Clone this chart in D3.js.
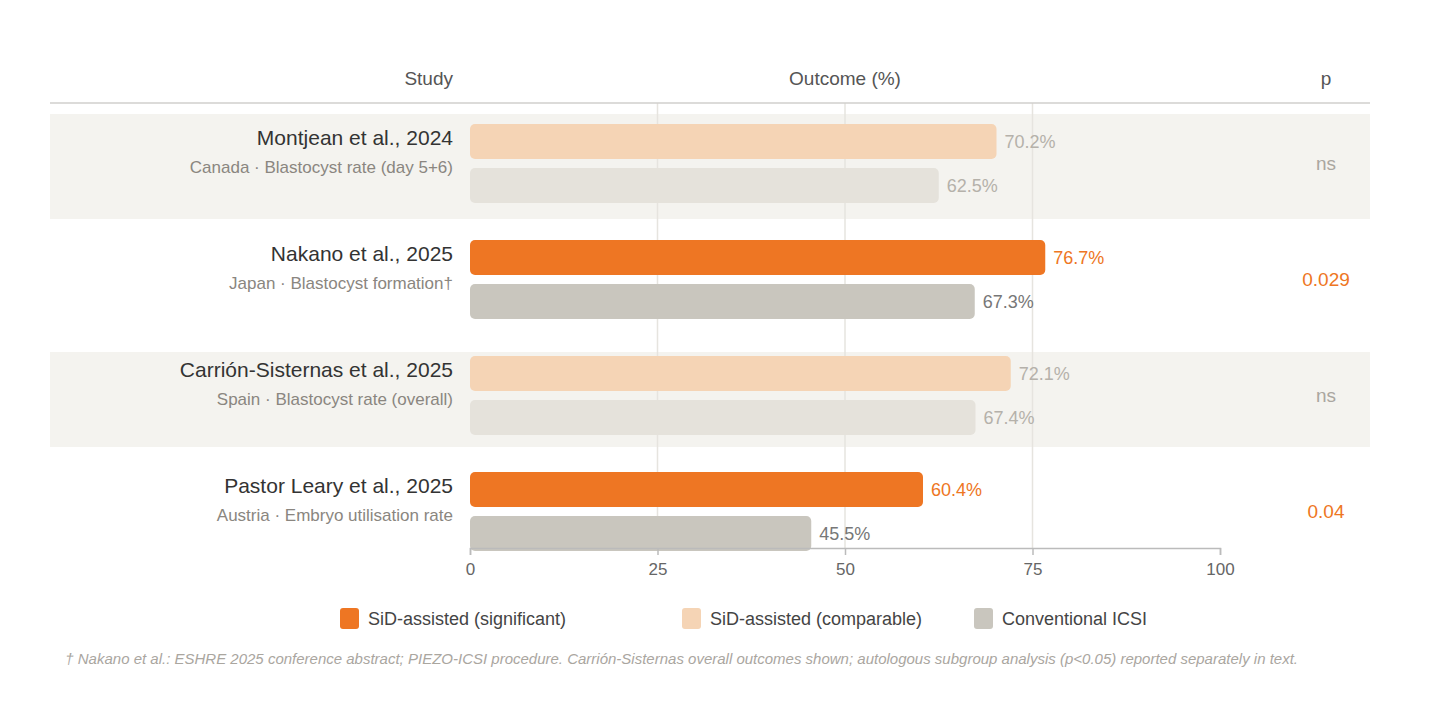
<!DOCTYPE html>
<html>
<head>
<script src="https://cdn.jsdelivr.net/npm/d3@7"></script>
<style>
html, body { margin: 0; background: #fff; font-family: "Helvetica Neue", "Liberation Sans", Arial, sans-serif; }
svg { display: block; }
</style>
</head>
<body>
<script>
var studies = ["Montjean et al., 2024", "Nakano et al., 2025", "Carrión-Sisternas et al., 2025", "Pastor Leary et al., 2025"];
var subtitles = ["Canada · Blastocyst rate (day 5+6)", "Japan · Blastocyst formation†", "Spain · Blastocyst rate (overall)", "Austria · Embryo utilisation rate"];
var sidValues = [70.2, 76.7, 72.1, 60.4];
var icsiValues = [62.5, 67.3, 67.4, 45.5];
var pValues = ["ns", "0.029", "ns", "0.04"];
var significant = [false, true, false, true];
var ticks = [0, 25, 50, 75, 100];
var legendLabels = ["SiD-assisted (significant)", "SiD-assisted (comparable)", "Conventional ICSI"];
var legendColors = ["#ee7623", "#f5d4b5", "#c9c6be"];

var svg = d3.select("body").append("svg").attr("width", 1440).attr("height", 704);

var x = d3.scaleLinear().domain([0, 100]).range([470, 1220]);
var y = d3.scaleBand().domain(studies).range([114, 578]);

// shaded bands
svg.selectAll("rect.band").data(studies.filter(function(d, i) { return i % 2 == 0; }))
  .enter().append("rect")
    .attr("x", 50).attr("width", 1320)
    .attr("y", function(d) { return y(d); })
    .attr("height", function(d, i) { return i == 0 ? 105 : 95; })
    .attr("transform", function(d, i) { return i == 0 ? "" : "translate(0,6)"; })
    .attr("fill", "#f4f3ef");

// gridlines
svg.selectAll("line.grid").data([25, 50, 75]).enter().append("line")
  .attr("x1", x).attr("x2", x).attr("y1", 103).attr("y2", 548)
  .attr("stroke", "#e6e4df").attr("stroke-width", 1.5);

// headers
svg.append("line").attr("x1", 50).attr("x2", 1370).attr("y1", 103).attr("y2", 103).attr("stroke", "#d0cfcc").attr("stroke-width", 1.5);
var hdr = [["Study", 453, "end"], ["Outcome (%)", 845, "middle"], ["p", 1326, "middle"]];
svg.selectAll("text.hdr").data(hdr).enter().append("text")
  .attr("x", function(d) { return d[1]; }).attr("y", 85)
  .attr("text-anchor", function(d) { return d[2]; })
  .attr("font-size", 19).attr("fill", "#555").text(function(d) { return d[0]; });

var rows = svg.selectAll("g.row").data(studies).enter().append("g")
  .attr("transform", function(d) { return "translate(0," + y(d) + ")"; });

rows.append("text").attr("x", 453).attr("y", 31).attr("text-anchor", "end")
  .attr("font-size", 21).attr("fill", "#333").text(function(d) { return d; });
rows.append("text").attr("x", 453).attr("y", 59).attr("text-anchor", "end")
  .attr("font-size", 17).attr("fill", "#8a8680").text(function(d, i) { return subtitles[i]; });

var bh = 35;
rows.append("rect").attr("x", x(0)).attr("y", 10).attr("height", bh).attr("rx", 5)
  .attr("width", function(d, i) { return x(sidValues[i]) - x(0); })
  .attr("fill", function(d, i) { return significant[i] ? "#ee7623" : "#f5d4b5"; });
rows.append("rect").attr("x", x(0)).attr("y", 54).attr("height", bh).attr("rx", 5)
  .attr("width", function(d, i) { return x(icsiValues[i]) - x(0); })
  .attr("fill", function(d, i) { return significant[i] ? "#c9c6be" : "#e5e2db"; });

rows.append("text").attr("y", 34).attr("font-size", 18)
  .attr("x", function(d, i) { return x(sidValues[i]) + 8; })
  .attr("fill", function(d, i) { return significant[i] ? "#ee7623" : "#b5b1aa"; })
  .text(function(d, i) { return sidValues[i].toFixed(1) + "%"; });
rows.append("text").attr("y", 78).attr("font-size", 18)
  .attr("x", function(d, i) { return x(icsiValues[i]) + 8; })
  .attr("fill", function(d, i) { return significant[i] ? "#777" : "#b5b1aa"; })
  .text(function(d, i) { return icsiValues[i].toFixed(1) + "%"; });

rows.append("text").attr("x", 1326).attr("y", 56).attr("text-anchor", "middle")
  .attr("font-size", 19)
  .attr("fill", function(d, i) { return significant[i] ? "#ee7623" : "#aaa69f"; })
  .text(function(d, i) { return pValues[i]; });

// axis
var axis = svg.append("g").attr("transform", "translate(0,548)")
  .call(d3.axisBottom(x).tickValues(ticks).tickSize(7).tickPadding(8));
axis.select(".domain").attr("stroke", "#bbb").attr("stroke-width", 1.5);
axis.selectAll(".tick line").attr("stroke", "#bbb").attr("stroke-width", 1.5);
axis.selectAll(".tick text").attr("font-size", 17).attr("fill", "#666").attr("font-family", "inherit");

// legend
var lx = [340, 682, 974];
var lg = svg.selectAll("g.leg").data(legendLabels).enter().append("g")
  .attr("transform", function(d, i) { return "translate(" + lx[i] + ",608)"; });
lg.append("rect").attr("width", 19).attr("height", 21).attr("rx", 3)
  .attr("fill", function(d, i) { return legendColors[i]; });
lg.append("text").attr("x", 28).attr("y", 17).attr("font-size", 18).attr("fill", "#444").text(function(d) { return d; });

svg.append("text").attr("x", 1298).attr("y", 664).attr("text-anchor", "end")
  .attr("font-size", 15).attr("font-style", "italic").attr("fill", "#aaa69f")
  .text("† Nakano et al.: ESHRE 2025 conference abstract; PIEZO-ICSI procedure. Carrión-Sisternas overall outcomes shown; autologous subgroup analysis (p<0.05) reported separately in text.");
</script>
</body>
</html>
